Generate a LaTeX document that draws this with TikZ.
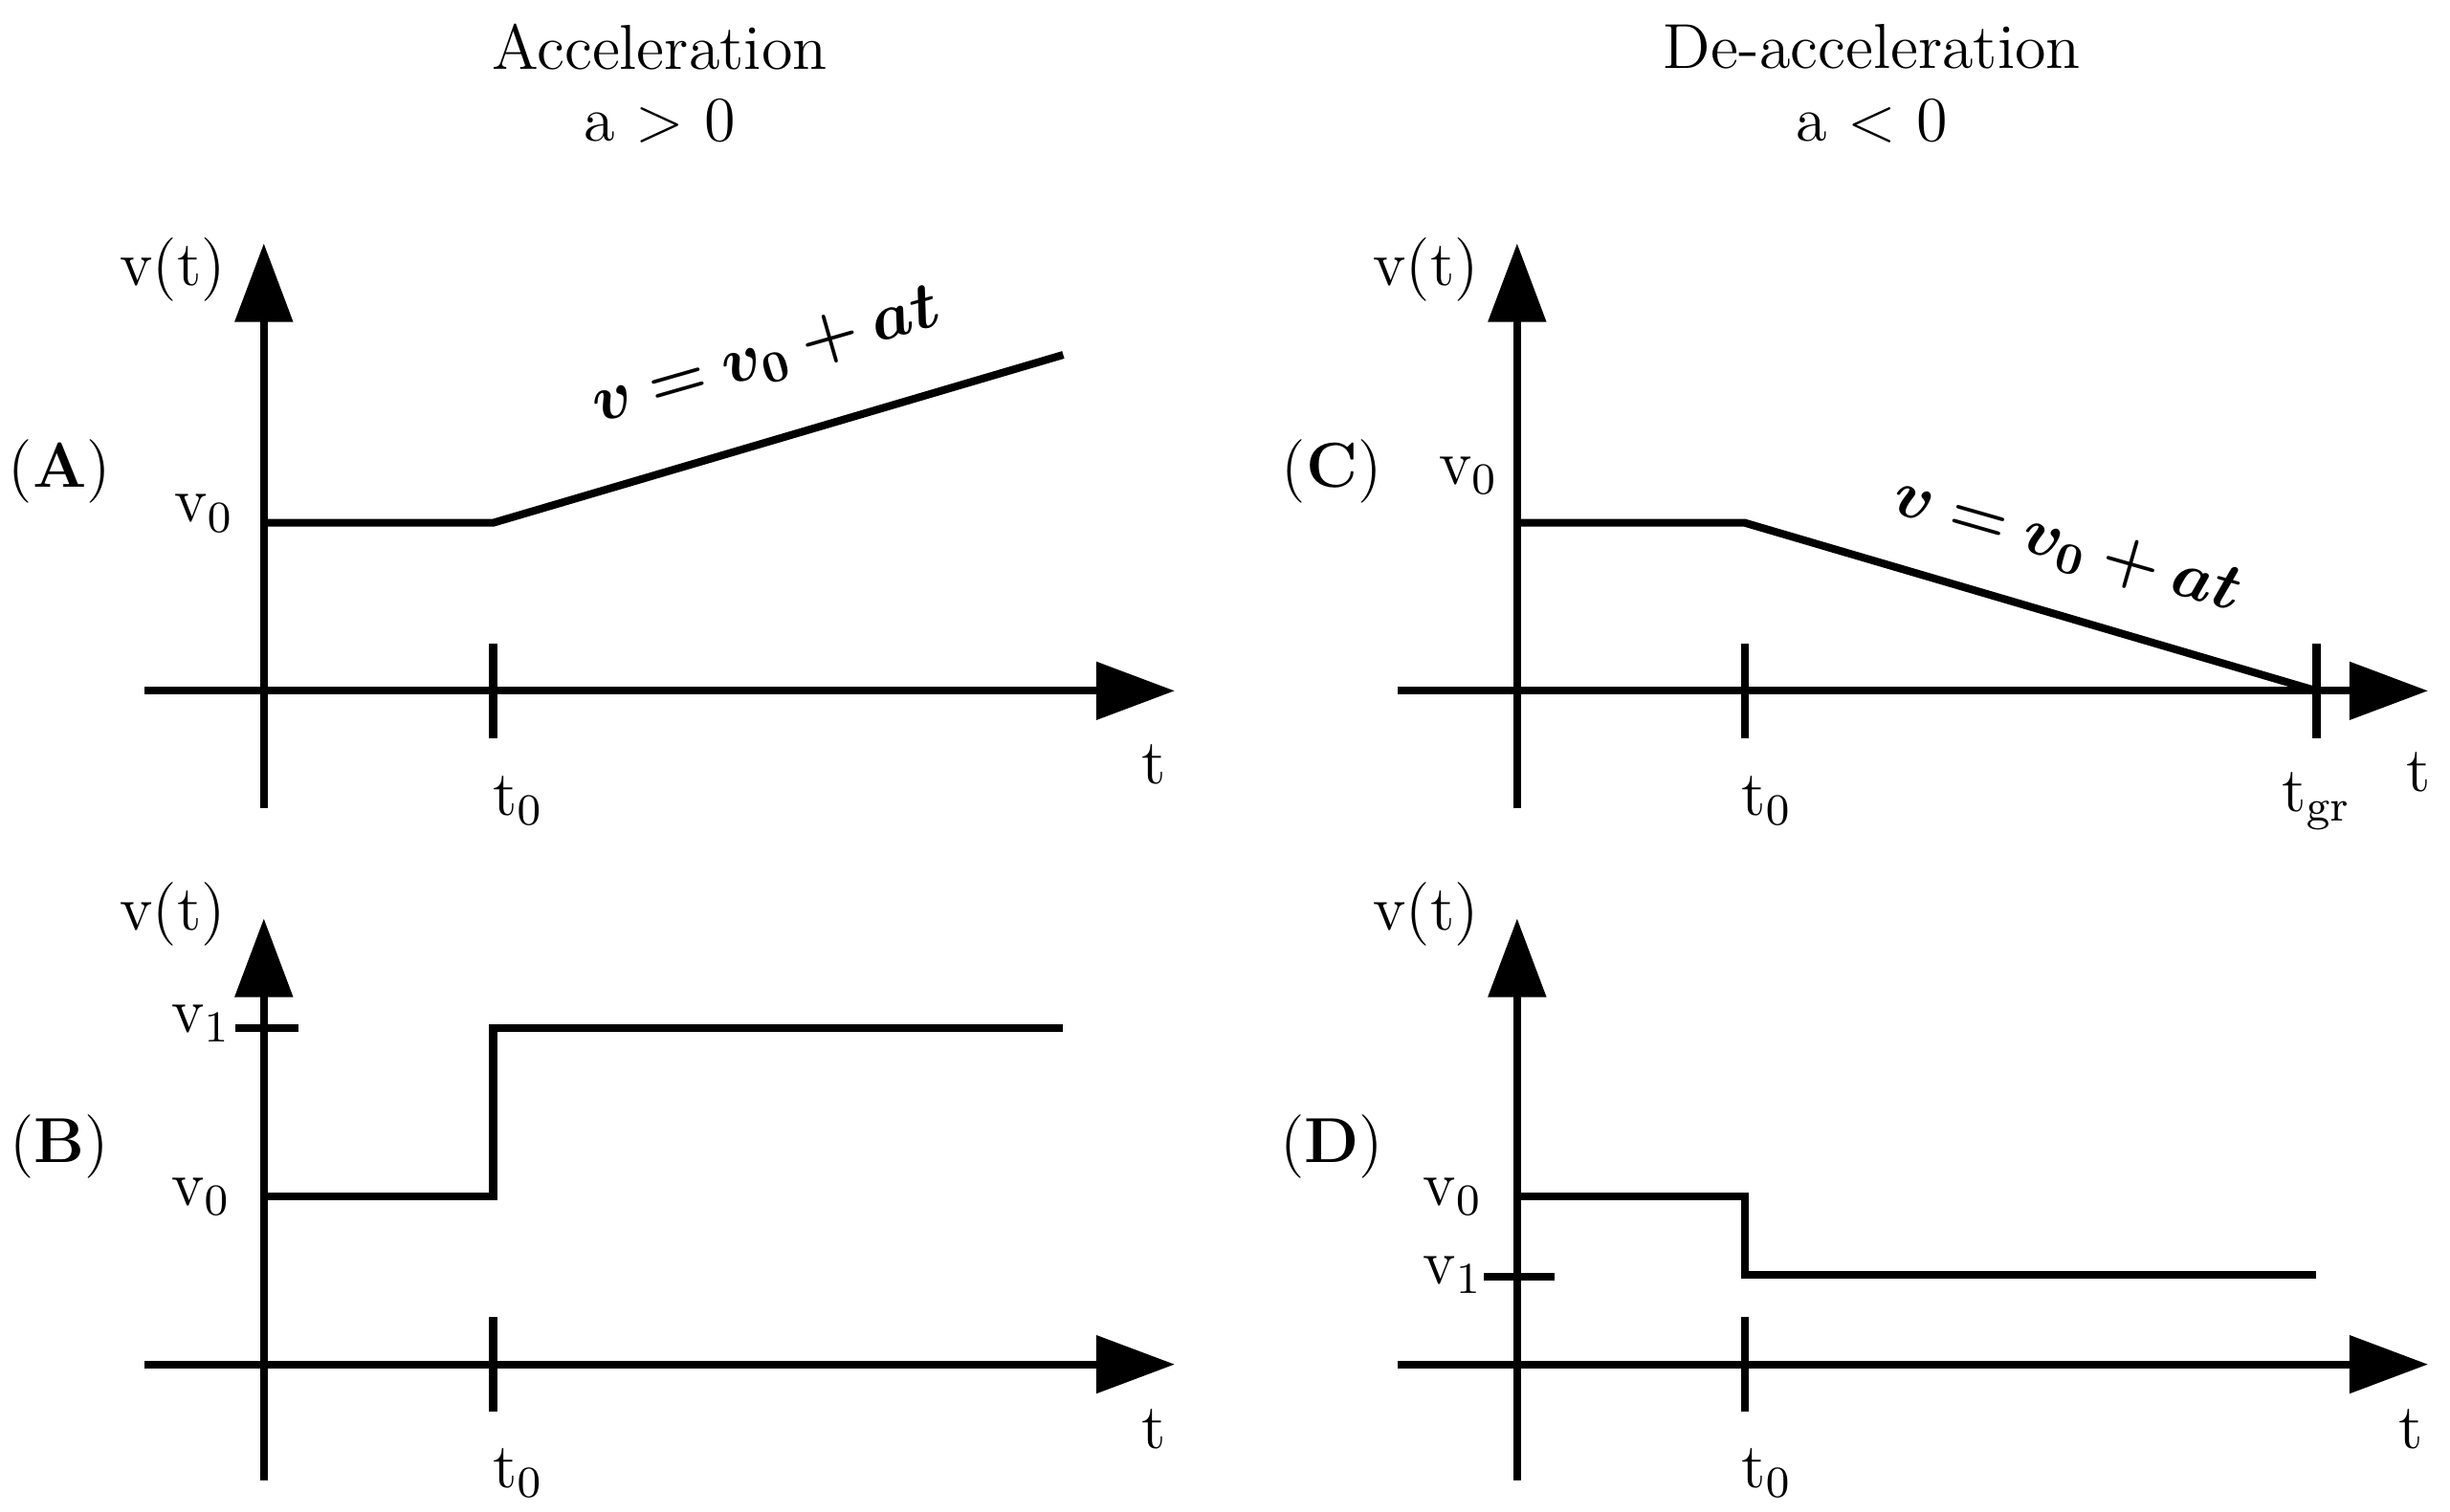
\documentclass[tikz,border=0pt]{standalone}
\usepackage{amsmath,bm}
\usetikzlibrary{arrows.meta}
\begin{document}
\begin{tikzpicture}[x=0.01cm,y=-0.01cm,
  ax/.style={line width=1.4pt,-{Triangle[length=0.5cm,width=0.36cm]}},
  ln/.style={line width=1.4pt},
  lb/.style={font=\fontsize{11.5}{14}\selectfont,inner sep=0pt},
  eq/.style={font=\fontsize{11.5}{14}\selectfont\bfseries,inner sep=0pt}]
\useasboundingbox (0,0) rectangle (1560,963);
% titles
\node[lb] (t1) at (420,30) {Acceleration};
\node[lb] (t2) at (420,77) {a > 0};
\node[lb] (t3) at (1192,30) {De-acceleration};
\node[lb] (t4) at (1192,77) {a < 0};
% Panel A
\coordinate (ay0) at (168,515); \coordinate (ay1) at (168,155);
\coordinate (ax0) at (92,440); \coordinate (ax1) at (748,440);
\draw[ax] (ay0) -- (ay1);
\draw[ax] (ax0) -- (ax1);
\coordinate (ak0) at (314,410); \coordinate (ak1) at (314,470);
\draw[ln] (ak0) -- (ak1);
\coordinate (a1) at (168,333); \coordinate (a2) at (314,333); \coordinate (a3) at (677,226);
\draw[ln] (a1) -- (a2) -- (a3);
\node[lb] (avt) at (110,172) {v(t)};
\node[lb] (av0) at (130,327) {v$_0$};
\node[lb] (aA) at (38,300) {(\textbf{A})};
\node[lb] (at0) at (330,510) {t$_0$};
\node[lb] (at) at (735,487) {t};
\node[eq,rotate=16] (aeq) at (488,228) {$\bm{v=v_0+at}$};
% Panel C
\coordinate (cy0) at (966,515); \coordinate (cy1) at (966,155);
\coordinate (cx0) at (890,440); \coordinate (cx1) at (1546,440);
\draw[ax] (cy0) -- (cy1);
\draw[ax] (cx0) -- (cx1);
\coordinate (ck0) at (1111,410); \coordinate (ck1) at (1111,470);
\draw[ln] (ck0) -- (ck1);
\coordinate (cg0) at (1475,410); \coordinate (cg1) at (1475,470);
\draw[ln] (cg0) -- (cg1);
\coordinate (c1) at (966,333); \coordinate (c2) at (1111,333); \coordinate (c3) at (1475,440);
\draw[ln] (c1) -- (c2) -- (c3);
\node[lb] (cvt) at (908,172) {v(t)};
\node[lb] (cv0) at (935,303) {v$_0$};
\node[lb] (cC) at (848,300) {(\textbf{C})};
\node[lb] (ct0) at (1125,510) {t$_0$};
\node[lb] (ctg) at (1475,510) {t$_{\mathrm{gr}}$};
\node[lb] (ct) at (1540,492) {t};
\node[eq,rotate=-16] (ceq) at (1316,348) {$\bm{v=v_0+at}$};
% Panel B
\coordinate (by0) at (168,943); \coordinate (by1) at (168,585);
\coordinate (bx0) at (92,869); \coordinate (bx1) at (748,869);
\draw[ax] (by0) -- (by1);
\draw[ax] (bx0) -- (bx1);
\coordinate (bk0) at (314,839); \coordinate (bk1) at (314,899);
\draw[ln] (bk0) -- (bk1);
\coordinate (bv0) at (150,655); \coordinate (bv1) at (190,655);
\draw[ln] (bv0) -- (bv1);
\coordinate (b1) at (168,762); \coordinate (b2) at (314,762); \coordinate (b3) at (314,655); \coordinate (b4) at (677,655);
\draw[ln] (b1) -- (b2) -- (b3) -- (b4);
\node[lb] (bvt) at (110,582) {v(t)};
\node[lb] (blv1) at (128,652) {v$_1$};
\node[lb] (blv0) at (128,762) {v$_0$};
\node[lb] (bB) at (38,730) {(\textbf{B})};
\node[lb] (bt0) at (330,938) {t$_0$};
\node[lb] (bt) at (735,910) {t};
% Panel D
\coordinate (dy0) at (966,943); \coordinate (dy1) at (966,585);
\coordinate (dx0) at (890,869); \coordinate (dx1) at (1546,869);
\draw[ax] (dy0) -- (dy1);
\draw[ax] (dx0) -- (dx1);
\coordinate (dk0) at (1111,839); \coordinate (dk1) at (1111,899);
\draw[ln] (dk0) -- (dk1);
\coordinate (dv0) at (945,813); \coordinate (dv1) at (990,813);
\draw[ln] (dv0) -- (dv1);
\coordinate (d1) at (966,762); \coordinate (d2) at (1111,762); \coordinate (d3) at (1111,812); \coordinate (d4) at (1475,812);
\draw[ln] (d1) -- (d2) -- (d3) -- (d4);
\node[lb] (dvt) at (908,582) {v(t)};
\node[lb] (dlv0) at (925,762) {v$_0$};
\node[lb] (dlv1) at (925,812) {v$_1$};
\node[lb] (dD) at (848,730) {(\textbf{D})};
\node[lb] (dt0) at (1125,938) {t$_0$};
\node[lb] (dt) at (1535,910) {t};
\end{tikzpicture}
\end{document}
